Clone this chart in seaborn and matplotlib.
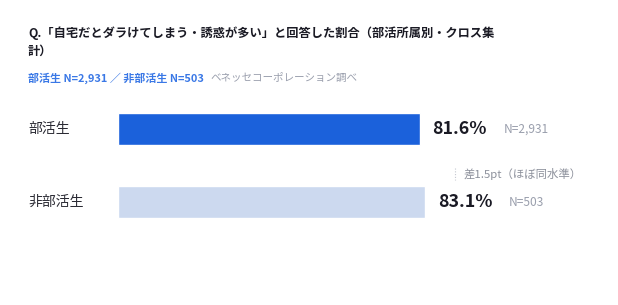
import matplotlib
matplotlib.use("Agg")
import matplotlib.pyplot as plt
import seaborn as sns
import pandas as pd

# data
groups = ["部活生", "非部活生"]
rates = [81.6, 83.1]
counts = ["N=2,931", "N=503"]
bar_colors = ["#1b61db", "#ccd9ef"]

title = "Q.「自宅だとダラけてしまう・誘惑が多い」と回答した割合（部活所属別・クロス集\n計）"
subtitle_blue = "部活生 N=2,931 ／ 非部活生 N=503"
subtitle_gray = "ベネッセコーポレーション調べ"
diff_note = "差1.5pt（ほぼ同水準）"

sns.set_style("white")
plt.rcParams['font.family'] = ['Noto Sans CJK JP', 'DejaVu Sans']

W, H = 618, 305
fig = plt.figure(figsize=(W / 100, H / 100), dpi=100)

# axes: x from 118px to 488px (0-100%), y from 92.5px to 238.5px
ax = fig.add_axes([118 / W, (H - 238.5) / H, 370 / W, 146 / H])

df = pd.DataFrame({"group": groups, "rate": rates})
sns.barplot(data=df, x="rate", y="group", hue="group", palette=bar_colors,
            saturation=1, legend=False, width=0.43, ax=ax, orient="h")
ax.set_xlim(0, 100)
ax.set_ylim(1.5, -0.5)
ax.axis("off")

for i, (v, n) in enumerate(zip(rates, counts)):
    ax.annotate(f"{v}%", xy=(v, i), xytext=(9, 0), textcoords="offset points",
                ha="left", va="center", fontsize=12.8, fontweight="bold", color="#1a1a24")
    ax.annotate(n, xy=(v, i), xytext=(60, 0), textcoords="offset points",
                ha="left", va="center", fontsize=8.6, color="#9a9fad")
    fig.text(28 / W, 1 - (129 + 73 * i) / H, groups[i], ha="left", va="center",
             fontsize=10, color="#2a2a33")

# difference note
ax.plot([91.1, 91.1], [0.53, 0.70], linestyle=(0, (1, 1.5)), color="#c4c8d0", lw=0.8)
ax.text(93.5, 0.615, diff_note, ha="left", va="center", fontsize=8.2, color="#8c909b")

fig.text(28 / W, 1 - 42 / H, title, ha="left", va="center", fontsize=8.8,
         fontweight="bold", color="#1a1a24", linespacing=1.45)
t1 = fig.text(28 / W, 1 - 78 / H, subtitle_blue, ha="left", va="center",
              fontsize=7.9, fontweight="bold", color="#3a78e6")
ax.annotate(subtitle_gray, xy=(1, 0.5), xycoords=t1, xytext=(5, 0),
            textcoords="offset points", ha="left", va="center", fontsize=7.6,
            color="#9a9fad")

fig.savefig("out.png", dpi=100)
